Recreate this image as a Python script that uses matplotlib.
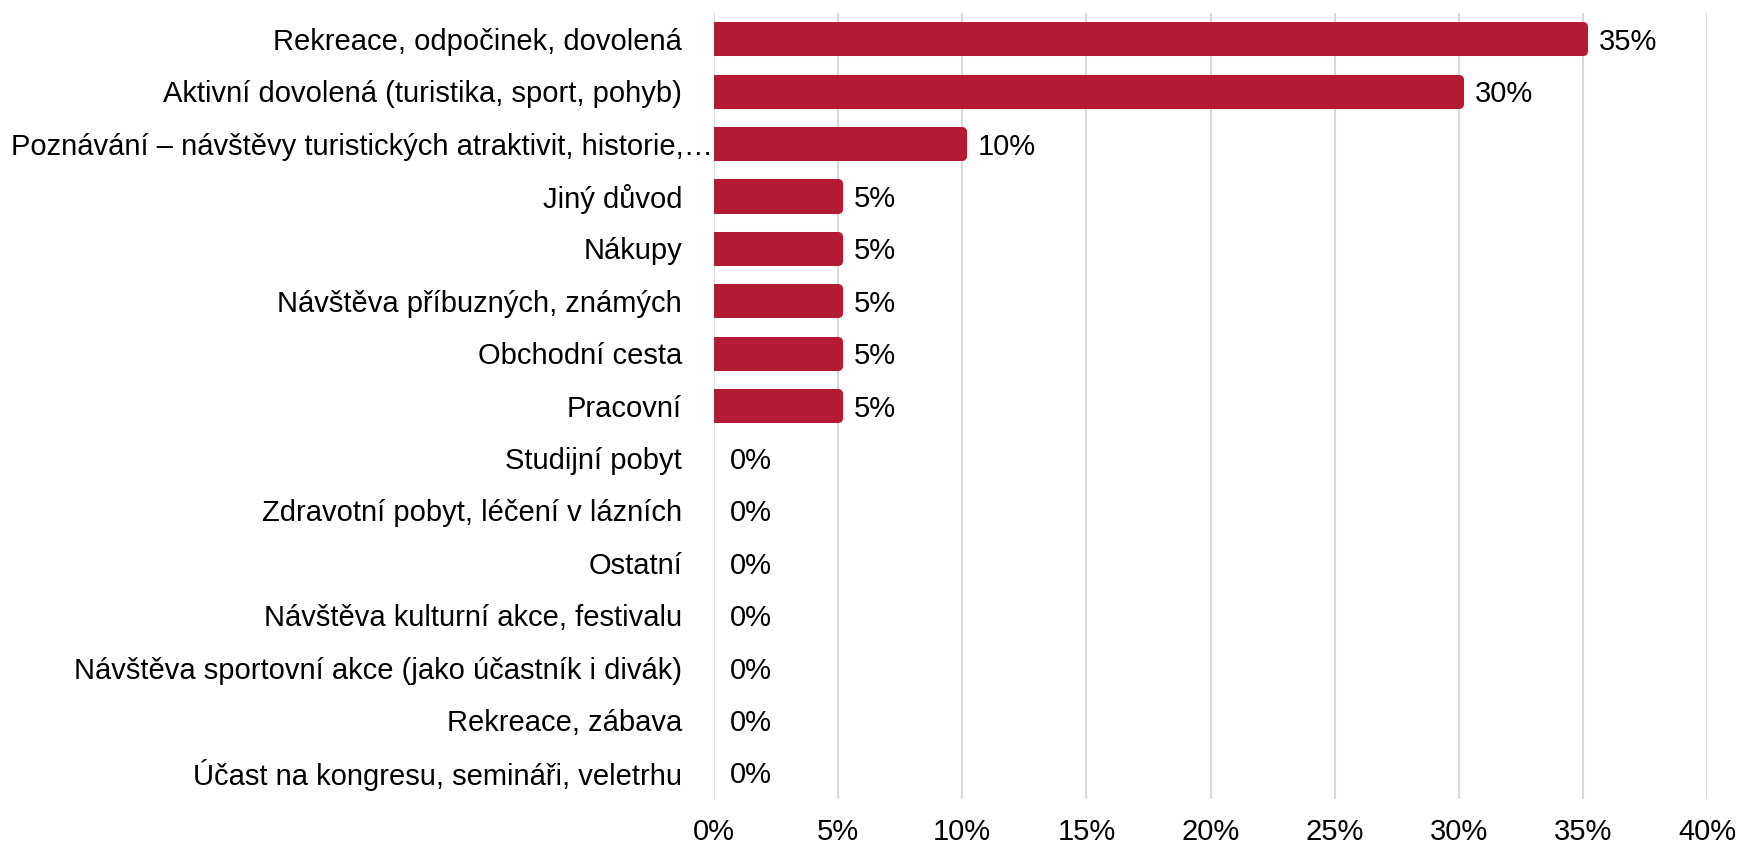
import matplotlib.pyplot as plt
import matplotlib.transforms as mtransforms
from matplotlib.ticker import FuncFormatter

plt.rcParams["font.family"] = ["Liberation Sans", "DejaVu Sans"]

# share of respondents by main purpose of the trip (%)
reasons = [
    "Rekreace, odpočinek, dovolená",
    "Aktivní dovolená (turistika, sport, pohyb)",
    "Poznávání – návštěvy turistických atraktivit, historie,…",
    "Jiný důvod",
    "Nákupy",
    "Návštěva příbuzných, známých",
    "Obchodní cesta",
    "Pracovní",
    "Studijní pobyt",
    "Zdravotní pobyt, léčení v lázních",
    "Ostatní",
    "Návštěva kulturní akce, festivalu",
    "Návštěva sportovní akce (jako účastník i divák)",
    "Rekreace, zábava",
    "Účast na kongresu, semináři, veletrhu",
]
shares = [35, 30, 10, 5, 5, 5, 5, 5, 0, 0, 0, 0, 0, 0, 0]
x_ticks = [0, 5, 10, 15, 20, 25, 30, 35, 40]

BAR_COLOR = "#B31B34"
GRID_COLOR = "#D9D9D9"
FONT_SIZE = 21

fig = plt.figure(figsize=(17.38, 8.46), dpi=100)
ax = fig.add_axes([0.4108, 0.0561, 0.5714, 0.9291])

positions = list(range(len(reasons)))
bars = ax.barh(positions, shares, height=0.48, color=BAR_COLOR,
               edgecolor=BAR_COLOR, zorder=3)
for bar, value in zip(bars, shares):
    # thick round-joined outline gives the soft corners
    bar.set_linewidth(6.5 if value > 0 else 0)
    bar.set_joinstyle("round")

for pos, value in zip(positions, shares):
    ax.annotate(f"{value}%", xy=(value, pos), xytext=(11.5, 0),
                textcoords="offset points", va="center_baseline", ha="left",
                fontsize=FONT_SIZE, color="black")

ax.set_xlim(0, 40)
ax.set_ylim(len(reasons) - 0.5, -0.5)
ax.set_xticks(x_ticks)
ax.xaxis.set_major_formatter(FuncFormatter(lambda v, _: f"{v:.0f}%"))
ax.set_yticks(positions)
ax.set_yticklabels(reasons, va="center_baseline")

ax.tick_params(axis="x", length=0, pad=14, labelsize=FONT_SIZE)
ax.tick_params(axis="y", length=0, pad=23, labelsize=FONT_SIZE)

# the long truncated label sits right against the axis
long_label = ax.get_yticklabels()[2]
long_label.set_transform(long_label.get_transform()
                         + mtransforms.ScaledTranslation(22 / 72, 0, fig.dpi_scale_trans))

ax.grid(axis="x", color=GRID_COLOR, linewidth=1.5, zorder=0)
ax.grid(axis="y", visible=False)
for spine in ax.spines.values():
    spine.set_visible(False)

fig.savefig("out.png", dpi=100, facecolor="white")
